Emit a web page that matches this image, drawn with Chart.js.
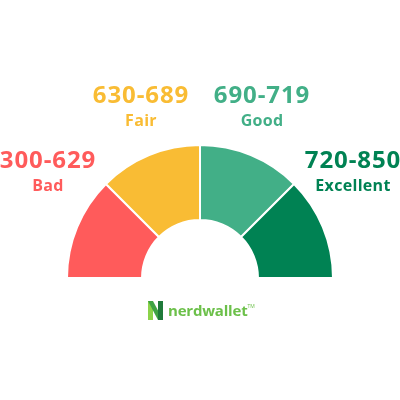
<!DOCTYPE html>
<html>
<head>
<meta charset="utf-8">
<script src="https://cdn.jsdelivr.net/npm/chart.js@4/dist/chart.umd.min.js"></script>
<style>
html,body{margin:0;padding:0;background:#fff;}
#wrap{position:relative;width:400px;height:400px;overflow:hidden;}
canvas{position:absolute;left:0;top:0;}
.lbl{position:absolute;font-family:"Open Sans",sans-serif;font-weight:700;text-align:center;white-space:nowrap;transform:translateX(-50%);}
.rng{font-size:24px;line-height:24px;letter-spacing:0.9px;}
.nm{font-size:16px;line-height:16px;letter-spacing:0.3px;}
#logo{position:absolute;left:148px;top:300px;height:20px;display:flex;align-items:center;}
#logo span{font-family:"Open Sans",sans-serif;font-weight:700;font-size:15px;color:#6cc04a;margin-left:5px;letter-spacing:-0.2px;line-height:20px;}
#logo sup{font-size:5px;color:#6cc04a;font-family:"Open Sans",sans-serif;align-self:flex-start;margin-top:3px;}
</style>
</head>
<body>
<div id="wrap">
<canvas id="c" width="400" height="400"></canvas>
<div id="labels"></div>
<div id="logo">
<svg width="15" height="19" viewBox="0 0 15 19">
<polygon points="0,0 5,0 5,19 0,19" fill="#8bd34a"/>
<polygon points="0,0 5,0 15,19 10,19" fill="#3ea343"/>
<polygon points="10,0 15,0 15,19 10,19" fill="#1f7a3a"/>
</svg>
<span>nerdwallet</span><sup>TM</sup>
</div>
</div>
<script>
const categories = ["Bad", "Fair", "Good", "Excellent"];
const ranges = ["300-629", "630-689", "690-719", "720-850"];
const values = [1, 1, 1, 1];
const colors = ["#ff5b5b", "#f9bc34", "#42af87", "#008253"];

const labelPos = [[48,147],[141,82],[262,82],[353,147]];
const labelsDiv = document.getElementById('labels');
categories.forEach((c,i)=>{
  const r = document.createElement('div');
  r.className='lbl rng'; r.style.color=colors[i];
  r.style.left=labelPos[i][0]+'px'; r.style.top=labelPos[i][1]+'px';
  r.textContent=ranges[i];
  labelsDiv.appendChild(r);
  const n = document.createElement('div');
  n.className='lbl nm'; n.style.color=colors[i];
  n.style.left=labelPos[i][0]+'px'; n.style.top=(labelPos[i][1]+30)+'px';
  n.textContent=c;
  labelsDiv.appendChild(n);
});

new Chart(document.getElementById('c'), {
  type: 'doughnut',
  data: {
    labels: categories,
    datasets: [{
      data: values,
      backgroundColor: colors,
      borderColor: '#ffffff',
      borderWidth: 2,
      hoverOffset: 0
    }]
  },
  options: {
    responsive: false,
    animation: false,
    rotation: -90,
    circumference: 180,
    cutout: '43.6%',
    layout: { padding: { left: 66, right: 66, top: 144, bottom: 121 } },
    plugins: { legend: { display: false }, tooltip: { enabled: false } },
    events: []
  }
});
</script>
</body>
</html>
